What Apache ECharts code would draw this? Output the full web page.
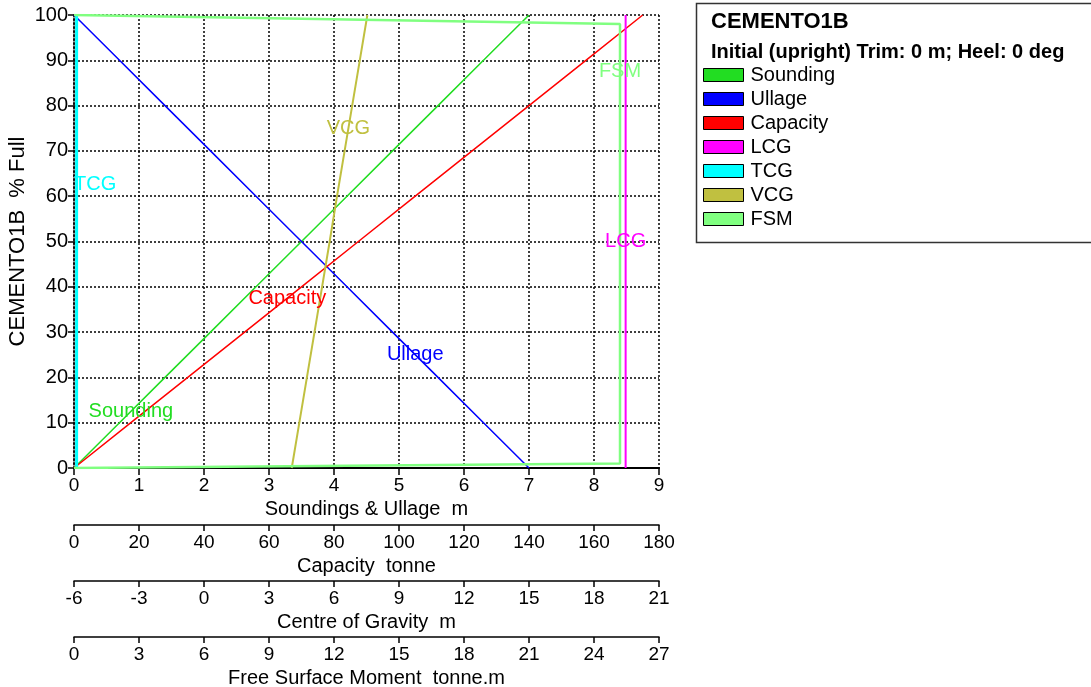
<!DOCTYPE html>
<html><head><meta charset="utf-8">
<script src="https://cdn.jsdelivr.net/npm/echarts@6/dist/echarts.min.js"></script>
<style>html,body{margin:0;padding:0;background:#fff}#c{width:1091px;height:687px}</style>
</head><body><div id="c"></div>
<script>
// ---- data ----
const tankName = 'CEMENTO1B';
const conditionText = 'Initial (upright) Trim: 0 m; Heel: 0 deg';
const yAxisName = 'CEMENTO1B  % Full';

const pctFull   = [0, 10, 20, 30, 40, 50, 60, 70, 80, 90, 100];
const soundingM = [0, 0.7, 1.4, 2.1, 2.8, 3.5, 4.2, 4.9, 5.6, 6.3, 7.0];
const ullageM   = [7.0, 6.3, 5.6, 4.9, 4.2, 3.5, 2.8, 2.1, 1.4, 0.7, 0];
const capacityT = [0, 17.5, 35, 52.5, 70, 87.5, 105, 122.5, 140, 157.5, 175];
const vcgM      = [4.05, 4.40, 4.75, 5.10, 5.45, 5.80, 6.14, 6.49, 6.84, 7.19, 7.54];
const lcgPct = [0, 100];
const lcgM   = [19.46, 19.46];
const tcgPct = [0, 100];
const tcgM   = [-5.88, -5.88];
const fsmPct = [0, 1, 98, 100];
const fsmTm  = [0, 25.2, 25.2, 0];

const axisNames = ['Soundings & Ullage  m', 'Capacity  tonne', 'Centre of Gravity  m', 'Free Surface Moment  tonne.m'];
const axisMin   = [0, 0, -6, 0];
const axisMax   = [9, 180, 21, 27];
const axisStep  = [1, 20, 3, 3];

const seriesNames  = ['Sounding', 'Ullage', 'Capacity', 'LCG', 'TCG', 'VCG', 'FSM'];
const seriesLabelPct = [12.5, 25, 37.5, 50, 62.5, 75, 87.5];

// ---- styling ----
const FONT = "'Liberation Sans', Arial, sans-serif";
const colors = {
  Sounding: '#22dd22', Ullage: '#0000ff', Capacity: '#ff0000', LCG: '#ff00ff',
  TCG: '#00ffff', VCG: '#c0c040', FSM: '#80ff80'
};
const widths = { Sounding: 1.5, Ullage: 1.5, Capacity: 1.5, LCG: 2, TCG: 3, VCG: 2, FSM: 2.5 };
const axisOffsets = [0, 57, 113, 169];

function interp(ps, vs, p) {
  for (let i = 0; i < ps.length - 1; i++) {
    if (p >= ps[i] && p <= ps[i + 1]) {
      const t = (p - ps[i]) / (ps[i + 1] - ps[i]);
      return vs[i] + t * (vs[i + 1] - vs[i]);
    }
  }
  return vs[vs.length - 1];
}

const seriesDefs = {
  Sounding: { axis: 0, p: pctFull, v: soundingM },
  Ullage:   { axis: 0, p: pctFull, v: ullageM },
  Capacity: { axis: 1, p: pctFull, v: capacityT },
  LCG:      { axis: 2, p: lcgPct, v: lcgM },
  TCG:      { axis: 2, p: tcgPct, v: tcgM },
  VCG:      { axis: 2, p: pctFull, v: vcgM },
  FSM:      { axis: 3, p: fsmPct, v: fsmTm }
};

const series = seriesNames.map((name, i) => {
  const d = seriesDefs[name];
  const lp = seriesLabelPct[i];
  const lx = interp(d.p, d.v, lp);
  const isEdge = name === 'TCG';
  return {
    name, type: 'line', xAxisIndex: d.axis, yAxisIndex: 0,
    data: d.p.map((p, k) => [d.v[k], p]),
    showSymbol: false, symbol: 'none', animation: false,
    color: colors[name],
    lineStyle: { color: colors[name], width: widths[name] },
    itemStyle: { color: colors[name] },
    z: 3,
    markPoint: {
      symbol: 'rect', symbolSize: 1, animation: false,
      itemStyle: { color: 'rgba(0,0,0,0)' },
      label: {
        show: true, formatter: name, color: colors[name],
        fontFamily: FONT, fontSize: 20,
        position: isEdge ? 'right' : 'inside', distance: isEdge ? -3 : 5
      },
      data: [{ coord: [lx, lp] }]
    }
  };
});

const xAxes = axisNames.map((nm, i) => ({
  type: 'value', gridIndex: 0, position: 'bottom', offset: axisOffsets[i],
  min: axisMin[i], max: axisMax[i], interval: axisStep[i],
  name: nm, nameLocation: 'middle', nameGap: 30,
  nameTextStyle: { fontFamily: FONT, fontSize: 20, color: '#000' },
  axisLine: { show: true, onZero: false, lineStyle: { color: '#000', width: i === 0 ? 2 : 1.5 } },
  axisTick: { show: true, length: i === 0 ? 7 : 6, lineStyle: { color: '#000', width: 1.5 } },
  axisLabel: { margin: 8, fontFamily: FONT, fontSize: 19, color: '#000' },
  splitLine: { show: i === 0, lineStyle: { color: '#000', width: 1.5, type: [2, 2] } }
}));

const option = {
  animation: false,
  backgroundColor: '#fff',
  title: [
    { text: tankName, left: 711, top: 11, padding: 0,
      textStyle: { fontFamily: FONT, fontSize: 22, fontWeight: 'bold', color: '#000' } },
    { text: conditionText, left: 711, top: 42, padding: 0,
      textStyle: { fontFamily: FONT, fontSize: 20, fontWeight: 'bold', color: '#000' } }
  ],
  legend: {
    orient: 'vertical', left: 703, top: 65, padding: 0,
    itemWidth: 40, itemHeight: 13, itemGap: 4, icon: 'rect',
    itemStyle: { borderColor: '#000', borderWidth: 1 },
    textStyle: { fontFamily: FONT, fontSize: 20, color: '#000', padding: [0, 0, 0, 2] },
    data: seriesNames, selectedMode: false
  },
  graphic: [{
    type: 'rect', left: 694, top: 1, z: -1,
    shape: { width: 420, height: 239 },
    style: { fill: 'none', stroke: '#333', lineWidth: 1.5 }
  }],
  grid: { left: 74, top: 15, width: 585, height: 453, containLabel: false, outerBoundsMode: 'none' },
  xAxis: xAxes,
  yAxis: {
    type: 'value', min: 0, max: 100, interval: 10,
    name: yAxisName, nameLocation: 'middle', nameGap: 45, nameMoveOverlap: false,
    nameTextStyle: { fontFamily: FONT, fontSize: 22, color: '#000' },
    axisLine: { show: true, lineStyle: { color: '#000', width: 1.5, type: [2, 2] } },
    axisTick: { show: true, length: 6, lineStyle: { color: '#000', width: 1.5 } },
    axisLabel: { margin: 6, fontFamily: FONT, fontSize: 20, color: '#000' },
    splitLine: { show: true, lineStyle: { color: '#000', width: 1.5, type: [2, 2] } }
  },
  series
};

const chart = echarts.init(document.getElementById('c'), null, { renderer: 'canvas' });
chart.setOption(option);
</script></body></html>
